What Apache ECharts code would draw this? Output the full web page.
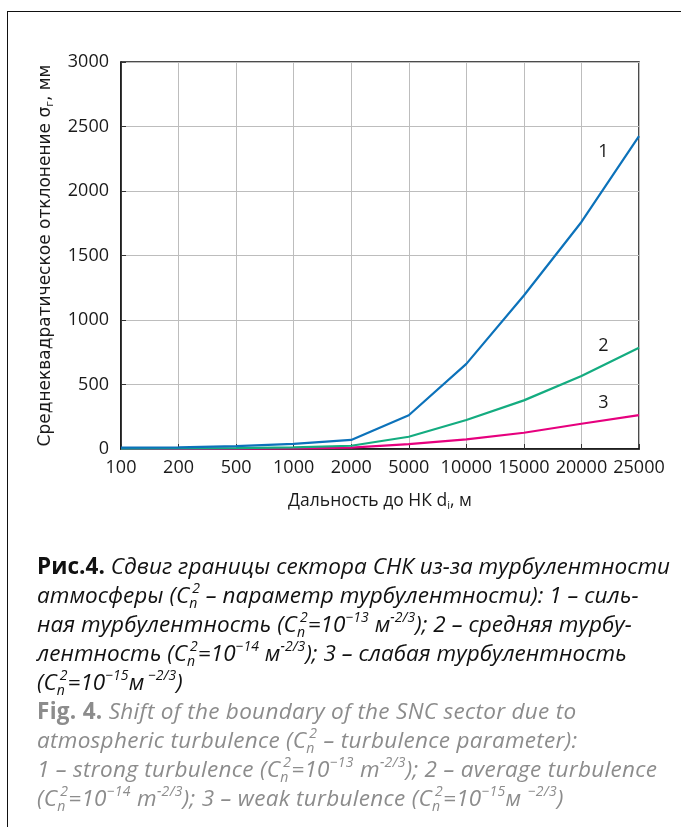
<!DOCTYPE html>
<html>
<head>
<meta charset="utf-8">
<script src="https://cdn.jsdelivr.net/npm/echarts@6/dist/echarts.min.js"></script>
<style>
  body { margin: 0; background: #fff; }
  #frame { position: absolute; left: 7px; top: 11px; width: 700px; height: 840px;
           border-left: 1.5px solid #111; border-top: 1.5px solid #111; }
  #chart { position: absolute; left: 0; top: 0; width: 681px; height: 827px; }
  #caption { position: absolute; left: 37px; top: 551px; white-space: nowrap;
             font-family: 'Open Sans', sans-serif; font-style: italic;
             font-size: 22.5px; line-height: 29px; color: #111; letter-spacing: 0.05px; }
  #caption b { font-style: normal; }
  #caption .en { color: #8c8c8c; letter-spacing: 0.3px; }
  #caption sup, #caption sub { font-size: 14px; line-height: 0; position: relative; vertical-align: baseline; }
  #caption sup { top: -10px; }
  #caption sub { top: 5px; }
  #caption .sn { display: inline-block; width: 3px; }
</style>
</head>
<body>
<div id="frame"></div>
<div id="chart"></div>
<div id="caption">
  <div><b>Рис.4.</b> Сдвиг границы сектора СНК из-за турбулентности</div>
  <div>атмосферы (C<sub class="sn">n</sub><sup>2</sup> – параметр турбулентности): 1 – силь-</div>
  <div>ная турбулентность (C<sub class="sn">n</sub><sup>2</sup>=10<sup>−13</sup> м<sup>-2/3</sup>); 2 – средняя турбу-</div>
  <div>лентность (C<sub class="sn">n</sub><sup>2</sup>=10<sup>−14</sup> м<sup>-2/3</sup>); 3 – слабая турбулентность</div>
  <div>(C<sub class="sn">n</sub><sup>2</sup>=10<sup>−15</sup>м<sup> −2/3</sup>)</div>
  <div class="en"><b>Fig. 4.</b> Shift of the boundary of the SNC sector due to</div>
  <div class="en">atmospheric turbulence (C<sub class="sn">n</sub><sup>2</sup> – turbulence parameter):</div>
  <div class="en">1 – strong turbulence (C<sub class="sn">n</sub><sup>2</sup>=10<sup>−13</sup> m<sup>-2/3</sup>); 2 – average turbulence</div>
  <div class="en">(C<sub class="sn">n</sub><sup>2</sup>=10<sup>−14</sup> m<sup>-2/3</sup>); 3 – weak turbulence (C<sub class="sn">n</sub><sup>2</sup>=10<sup>−15</sup>м <sup>−2/3</sup>)</div>
</div>
<script>
// дальность до НК, м
const distances = ['100', '200', '500', '1000', '2000', '5000', '10000', '15000', '20000', '25000'];
// СКО, мм
const strong = [10, 12, 22, 40, 70, 262, 660, 1190, 1760, 2425];
const average = [3, 4, 7, 12, 25, 95, 225, 377, 566, 785];
const weak = [1, 1, 2, 4, 10, 38, 75, 126, 196, 262];
const curveNames = ['1', '2', '3'];
// where the curve numbers sit (value at the 20000 column, shifted right in px)
const nameValues = [2300, 800, 360];

let chartDom = document.getElementById('chart');
let myChart = echarts.init(chartDom);
let option;

const tickFont = { fontFamily: 'Open Sans', fontSize: 18, color: '#1a1a1a' };

option = {
  animation: false,
  grid: {
    left: 121, top: 62, right: 42, bottom: 378,
    show: true, borderColor: '#111', borderWidth: 1.5
  },
  xAxis: {
    type: 'category',
    data: distances,
    boundaryGap: false,
    name: 'Дальность до НК d{s|i}, м',
    nameLocation: 'middle',
    nameGap: 42,
    nameTextStyle: {
      fontFamily: 'Open Sans', fontSize: 17.5, color: '#1a1a1a',
      rich: { s: { fontSize: 11, verticalAlign: 'bottom', padding: [9, 0, 0, 0], fontFamily: 'Open Sans' } }
    },
    axisLine: { lineStyle: { color: '#111', width: 1.5 } },
    axisTick: { inside: true, length: 5, lineStyle: { color: '#333' } },
    axisLabel: Object.assign({ margin: 10, interval: 0 }, tickFont),
    splitLine: { show: true, lineStyle: { color: '#bdbdbd', width: 1 } }
  },
  yAxis: {
    type: 'value',
    min: 0, max: 3000, interval: 500,
    name: 'Среднеквадратическое отклонение σ{s|г}, мм',
    nameLocation: 'middle',
    nameGap: 65,
    nameTextStyle: {
      fontFamily: 'DejaVu Sans', fontSize: 17, color: '#1a1a1a',
      rich: { s: { fontSize: 11, verticalAlign: 'bottom', padding: [9, 0, 0, 0], fontFamily: 'DejaVu Sans' } }
    },
    axisLine: { show: true, lineStyle: { color: '#111', width: 1.5 } },
    axisTick: { show: true, inside: true, length: 5, lineStyle: { color: '#333' } },
    axisLabel: Object.assign({ margin: 12, formatter: v => String(v) }, tickFont),
    splitLine: { show: true, lineStyle: { color: '#bdbdbd', width: 1 } }
  },
  series: [
    { name: curveNames[0], type: 'line', data: strong, symbol: 'none', lineStyle: { color: '#0c72ba', width: 2.2 }, z: 4 },
    { name: curveNames[1], type: 'line', data: average, symbol: 'none', lineStyle: { color: '#14ac80', width: 2.2 }, z: 3 },
    { name: curveNames[2], type: 'line', data: weak, symbol: 'none', lineStyle: { color: '#e6007e', width: 2.2 }, z: 2 }
  ]
};

option && myChart.setOption(option);

// curve numbers
myChart.setOption({
  graphic: curveNames.map((t, i) => {
    const p = myChart.convertToPixel({ xAxisIndex: 0, yAxisIndex: 0 }, [distances[8], nameValues[i]]);
    return {
      type: 'text', x: p[0] + 22, y: p[1],
      style: { text: t, fontFamily: 'Open Sans', fontSize: 18, fill: '#1a1a1a', align: 'center', verticalAlign: 'middle' }
    };
  })
});
</script>
</body>
</html>
